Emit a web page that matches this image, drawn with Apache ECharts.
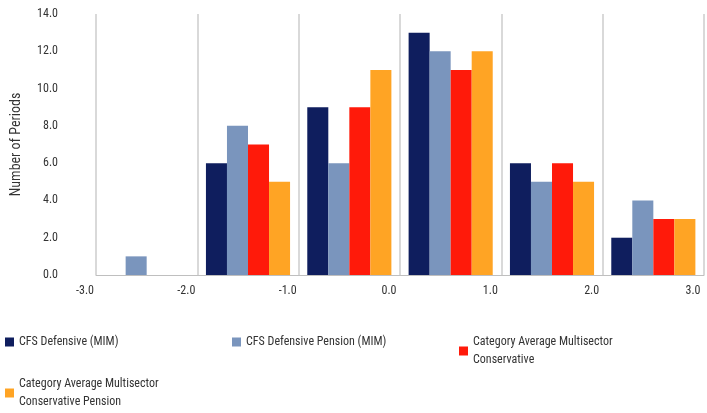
<!DOCTYPE html>
<html>
<head>
<meta charset="utf-8">
<script src="https://cdn.jsdelivr.net/npm/echarts@6/dist/echarts.min.js"></script>
<style>html,body{margin:0;background:#fff}#chart{width:707px;height:413px}</style>
</head>
<body>
<div id="chart"></div>
<script>
var bins = ['-3:-2', '-2:-1', '-1:0', '0:1', '1:2', '2:3'];
var cfsDefensive = [0, 6, 9, 13, 6, 2];
var cfsPension = [1, 8, 6, 12, 5, 4];
var catAverage = [0, 7, 9, 11, 6, 3];
var catPension = [0, 5, 11, 12, 5, 3];
var names = ['CFS Defensive (MIM)', 'CFS Defensive Pension (MIM)',
    'Category Average Multisector\nConservative', 'Category Average Multisector\nConservative Pension'];
var colors = ['#0f1e5e', '#7a95bd', '#ff1a0a', '#ffa424'];
var font = "'Roboto Condensed', 'Liberation Sans Narrow', 'Roboto', sans-serif";

var allData = [cfsDefensive, cfsPension, catAverage, catPension];
var series = allData.map(function (d, i) {
    return { name: names[i], type: 'bar', xAxisIndex: 0, data: d,
        barGap: '0%', barCategoryGap: '17%', itemStyle: { color: colors[i] } };
});
var legendPos = [[0, 328], [227, 328], [454, 328], [0, 370]];
var legends = names.map(function (n, i) {
    return { data: [n], left: legendPos[i][0], top: legendPos[i][1], icon: 'rect',
        itemWidth: 9, itemHeight: 9, itemGap: 2,
        textStyle: { fontFamily: font, fontSize: 12, color: '#333', lineHeight: 18 } };
});

var chart = echarts.init(document.getElementById('chart'));
chart.setOption({
    animation: false,
    textStyle: { fontFamily: font },
    grid: { left: 96, right: 3, top: 14, bottom: 138 },
    legend: legends,
    xAxis: [
        { type: 'category', data: bins, show: false },
        { type: 'value', min: -3, max: 3, interval: 1, position: 'bottom',
          axisLine: { lineStyle: { color: '#bfbfbf' } }, axisTick: { show: false },
          axisLabel: { color: '#333', fontSize: 12, fontFamily: font, margin: 10,
              padding: [0, 22, 0, 0],
              formatter: function (v) { return v.toFixed(1); } },
          splitLine: { show: true, lineStyle: { color: '#d9d9d9', width: 2 } } }
    ],
    yAxis: {
        type: 'value', min: 0, max: 14, interval: 2,
        name: 'Number of Periods', nameLocation: 'middle', nameGap: 73,
        nameTextStyle: { color: '#333', fontSize: 14, fontFamily: font },
        axisLabel: { color: '#333', fontSize: 12, fontFamily: font, margin: 38,
            formatter: function (v) { return v.toFixed(1); } },
        splitLine: { show: false }, axisLine: { show: false }, axisTick: { show: false }
    },
    series: series
});
</script>
</body>
</html>
